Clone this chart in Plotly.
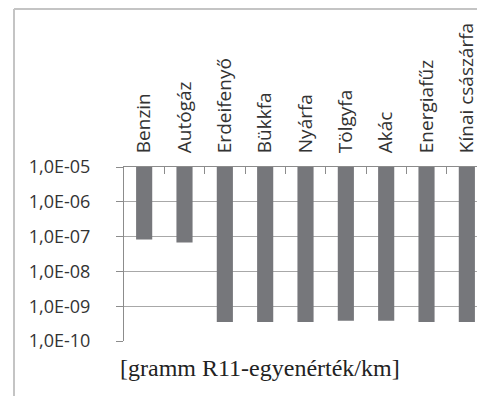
import plotly.graph_objects as go

categories = ["Benzin", "Autógáz", "Erdeifenyő", "Bükkfa", "Nyárfa", "Tölgyfa", "Akác", "Energiafűz", "Kínai császárfa"]
values = [8.3e-8, 6.8e-8, 3.5e-10, 3.5e-10, 3.5e-10, 3.8e-10, 3.8e-10, 3.5e-10, 3.5e-10]
axis_top = 1e-5
tick_vals = [1e-10, 1e-9, 1e-8, 1e-7, 1e-6, 1e-5]
tick_text = ["1,0E-10", "1,0E-09", "1,0E-08", "1,0E-07", "1,0E-06", "1,0E-05"]
unit_label = "[gramm R11-egyenérték/km]"

# page body has an 8px margin; work in screen pixels and subtract it
OFF = 8
W, H = 485 - OFF, 396 - OFF
L, T = 124 - OFF, 167 - OFF
PLOT_BOTTOM = 341 - OFF
R, B = 0, H - PLOT_BOTTOM
pw, ph = W - L - R, H - T - B

def px(x):
    return (x - OFF - L) / pw

def py(y):
    return (H - B - (y - OFF)) / ph

fig = go.Figure()
fig.add_trace(go.Bar(
    x=categories,
    y=[axis_top - v for v in values],
    base=values,
    width=0.4,
    marker=dict(color="#76777b", line=dict(width=0)),
))

fig.update_layout(
    width=W, height=H,
    margin=dict(l=L, r=R, t=T, b=B, pad=0),
    paper_bgcolor="white", plot_bgcolor="white",
    showlegend=False,
    font=dict(family="Open Sans", color="#333333"),
    xaxis=dict(
        side="top", type="category",
        range=[-0.5, 8.45],
        showline=True, linecolor="#8c8c8c", linewidth=1,
        ticks="inside", ticklen=7, tickcolor="#8c8c8c", tickson="boundaries",
        tickangle=-90, tickfont=dict(size=19, family="Open Sans", color="#333333"),
        ticklabelstandoff=9,
        showgrid=False, zeroline=False,
    ),
    yaxis=dict(
        type="log", range=[-10, -5],
        tickvals=tick_vals, ticktext=tick_text,
        showline=True, linecolor="#8c8c8c", linewidth=1,
        ticks="outside", ticklen=7, tickcolor="#8c8c8c",
        tickfont=dict(size=18, family="Open Sans", color="#333333"),
        ticklabelstandoff=22,
        showgrid=True, gridcolor="#a8a8a8", gridwidth=1,
        zeroline=False,
    ),
    shapes=[
        dict(type="line", xref="paper", yref="paper", x0=px(14), x1=px(14), y0=py(9), y1=py(400),
             line=dict(color="#c4c4c4", width=2)),
        dict(type="line", xref="paper", yref="paper", x0=px(14), x1=px(490), y0=py(9), y1=py(9),
             line=dict(color="#c4c4c4", width=2)),
    ],
    annotations=[
        dict(text=unit_label, xref="paper", yref="paper", x=px(259.5), y=py(368),
             xanchor="center", yanchor="middle", showarrow=False,
             font=dict(family="Liberation Serif", size=24, color="#222222")),
    ],
)

fig.write_html("out.html")
